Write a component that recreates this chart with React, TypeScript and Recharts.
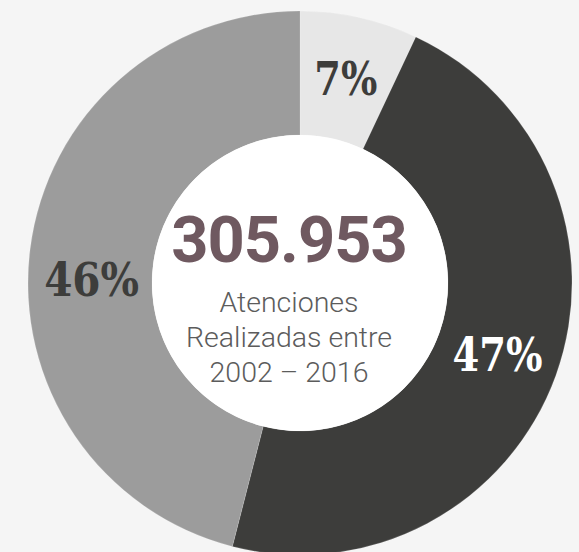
import React from 'react';
import { PieChart, Pie, Cell, Label } from 'recharts';

const categories = ['A', 'B', 'C'];
const shares = [7, 47, 46];
const labels = ['7%', '47%', '46%'];
const colors = ['#e7e7e7', '#3d3d3b', '#9c9c9c'];
const labelColors = ['#3d3d3b', '#ffffff', '#3d3d3b'];
const labelWidths = [63, 90, 95];
const totalText = '305.953';
const captionLines = ['Atenciones', 'Realizadas entre', '2002 – 2016'];

const data = categories.map((c, i) => ({ name: c, value: shares[i] }));
const disk = [{ name: 'center', value: 1 }];

const RAD = Math.PI / 180;

const renderLabel = (props: any) => {
  const { cx, cy, midAngle, innerRadius, outerRadius, index } = props;
  const r = (innerRadius + outerRadius) / 2;
  const x = cx + r * Math.cos(-midAngle * RAD);
  let y = cy + r * Math.sin(-midAngle * RAD);
  if (index === 2) y += 22;
  return (
    <text
      x={x}
      y={y}
      dy={17}
      textAnchor="middle"
      fill={labelColors[index]}
      fontFamily="'DejaVu Serif Condensed', 'DejaVu Serif', serif"
      fontStretch="condensed"
      fontWeight="bold"
      fontSize={47}
      textLength={labelWidths[index]}
      lengthAdjust="spacingAndGlyphs"
    >
      {labels[index]}
    </text>
  );
};

const CenterContent = (props: any) => {
  const vb = props.viewBox || {};
  const cx = vb.cx ?? 300;
  const cy = vb.cy ?? 283;
  const x = cx - 11;
  return (
    <g>
      <text
        x={x}
        y={cy - 21}
        textAnchor="middle"
        fill="#6f5960"
        fontFamily="Roboto, sans-serif"
        fontWeight="bold"
        fontSize={65}
        letterSpacing={-1}
      >
        {totalText}
      </text>
      {captionLines.map((t, i) => (
        <text
          key={t}
          x={x}
          y={cy + 29 + i * 35}
          textAnchor="middle"
          fill="#5c5c5c"
          fontFamily="Roboto, sans-serif"
          fontWeight={300}
          fontSize={28.5}
        >
          {t}
        </text>
      ))}
    </g>
  );
};

export default function App() {
  return (
    <div
      style={{
        position: 'fixed',
        top: 0,
        left: 0,
        width: 579,
        height: 552,
        background: '#f5f5f5',
        overflow: 'hidden',
      }}
    >
      <PieChart width={579} height={552} margin={{ top: 0, right: 0, bottom: 0, left: 0 }}>
        <Pie
          data={data}
          dataKey="value"
          cx={300}
          cy={283}
          innerRadius={148}
          outerRadius={272}
          startAngle={90}
          endAngle={-270}
          stroke="rgba(255,255,255,0.15)"
          strokeWidth={1}
          label={renderLabel}
          labelLine={false}
          isAnimationActive={false}
        >
          {data.map((d, i) => (
            <Cell key={d.name} fill={colors[i]} />
          ))}
        </Pie>
        <Pie
          data={disk}
          dataKey="value"
          cx={300}
          cy={283}
          innerRadius={0}
          outerRadius={148}
          fill="#ffffff"
          stroke="none"
          isAnimationActive={false}
        >
          <Label content={<CenterContent />} position="center" />
        </Pie>
      </PieChart>
    </div>
  );
}
